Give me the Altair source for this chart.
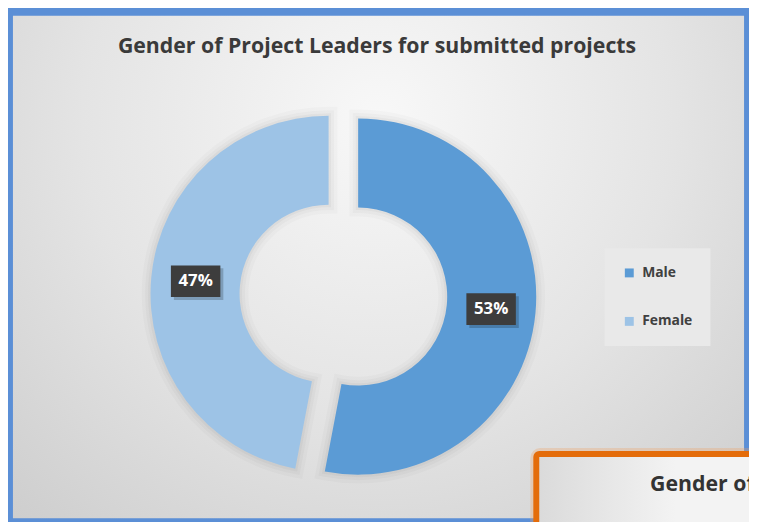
import altair as alt
import pandas as pd

# ---- data ----
genders = ["Male", "Female"]
shares = [53, 47]
colors = ["#5B9BD5", "#9DC3E6"]
title_text = "Gender of Project Leaders for submitted projects"
second_title_text = "Gender of"

df = pd.DataFrame({"gender": genders, "share": shares})

# ---- layout (pixels) ----
W, H = 749, 514
CX, CY = 339, 287.5
R_OUT, R_IN = 180, 90
EXPLODE = 15
LABEL_R = 135
FONT = "Open Sans"

dummy = alt.Data(values=[{}])

base = (
    alt.Chart(df)
    .transform_joinaggregate(total="sum(share)")
    .transform_window(cum="sum(share)", frame=[None, 0])
    .transform_calculate(t1="datum.cum / datum.total * 2 * PI")
    .transform_calculate(t0="(datum.cum - datum.share) / datum.total * 2 * PI")
    .transform_calculate(mid="(datum.t0 + datum.t1) / 2")
    .transform_calculate(ox=f"{CX} + {EXPLODE} * sin(datum.mid)")
    .transform_calculate(oy=f"{CY} - {EXPLODE} * cos(datum.mid)")
    .transform_calculate(lx=f"datum.ox + {LABEL_R} * sin(datum.mid)")
    .transform_calculate(ly=f"datum.oy - {LABEL_R} * cos(datum.mid)")
    .transform_calculate(pct="format(datum.share / datum.total, '.0%')")
)

bg = alt.Chart(dummy).mark_rect(
    fill=alt.RadialGradient(
        gradient="radial",
        stops=[
            alt.GradientStop(color="#F8F8F8", offset=0),
            alt.GradientStop(color="#E4E4E4", offset=0.5),
            alt.GradientStop(color="#C9C9C9", offset=1),
        ],
        x1=0.5, y1=0.3, x2=0.5, y2=0.3, r1=0, r2=0.8,
    ),
    stroke="#5B8FD6",
    strokeWidth=10,
    cornerRadius=4,
).encode(x=alt.value(0), x2=alt.value(W), y=alt.value(0), y2=alt.value(H + 4))

pos = dict(
    x=alt.X("ox:Q", scale=None, axis=None),
    y=alt.Y("oy:Q", scale=None, axis=None),
    theta=alt.Theta("t0:Q", scale=None),
    theta2=alt.Theta2("t1:Q"),
)

shadows = [
    base.mark_arc(
        outerRadius=R_OUT, innerRadius=R_IN, fillOpacity=0,
        stroke="#000000", strokeOpacity=op, strokeWidth=sw,
    ).encode(**pos)
    for sw, op in [(18, 0.02), (11, 0.025), (5, 0.03)]
]

arcs = base.mark_arc(outerRadius=R_OUT, innerRadius=R_IN).encode(
    color=alt.Color(
        "gender:N",
        scale=alt.Scale(domain=genders, range=colors),
        sort=genders,
        legend=alt.Legend(
            orient="none", legendX=603, legendY=240, title=None,
            fillColor="#E9E9E9", padding=18, symbolType="square",
            symbolSize=81, symbolStrokeWidth=0, symbolOpacity=1,
            labelFont=FONT, labelFontSize=14, labelFontWeight="bold",
            labelColor="#404040", rowPadding=35, labelOffset=6,
        ),
    ),
    **pos,
)

lpos = dict(
    x=alt.X("lx:Q", scale=None, axis=None),
    y=alt.Y("ly:Q", scale=None, axis=None),
)
BOX = "M-1,-0.64L1,-0.64L1,0.64L-1,0.64Z"
box_shadow = base.mark_point(
    shape=BOX, size=2500, filled=True, color="#000000", opacity=0.2,
    xOffset=3, yOffset=3,
).encode(**lpos)
box = base.mark_point(
    shape=BOX, size=2500, filled=True, color="#3D3D3D", opacity=1,
).encode(**lpos)
labels = base.mark_text(
    font=FONT, fontSize=17, fontWeight="bold", color="#FFFFFF",
).encode(text="pct:N", **lpos)

title = alt.Chart(dummy).mark_text(
    text=title_text, font=FONT, fontSize=21.5, fontWeight="bold",
    color="#3A3A3A", align="center", baseline="middle",
).encode(x=alt.value(373), y=alt.value(37))

orange_glow = alt.Chart(dummy).mark_rect(
    fillOpacity=0, stroke="#F0A060", strokeOpacity=0.3, strokeWidth=12,
    cornerRadius=4,
).encode(x=alt.value(534), x2=alt.value(W + 20), y=alt.value(448), y2=alt.value(H + 20))

orange = alt.Chart(dummy).mark_rect(
    fill=alt.LinearGradient(
        gradient="linear",
        stops=[
            alt.GradientStop(color="#DADADA", offset=0),
            alt.GradientStop(color="#F3F3F3", offset=0.6),
        ],
        x1=0, y1=0.5, x2=1, y2=0.5,
    ),
    stroke="#E46C0A", strokeWidth=6, cornerRadius=3,
).encode(x=alt.value(534), x2=alt.value(W + 20), y=alt.value(448), y2=alt.value(H + 20))

orange_text = alt.Chart(dummy).mark_text(
    text=second_title_text, font=FONT, fontSize=21.5, fontWeight="bold",
    color="#333333", align="left", baseline="middle",
).encode(x=alt.value(649), y=alt.value(479))

chart = alt.layer(
    bg, *shadows, arcs, box_shadow, box, labels, title,
    orange_glow, orange, orange_text,
).properties(
    width=W, height=H,
    autosize=alt.AutoSizeParams(type="none"),
    padding=0,
).configure_view(stroke=None)

chart.save("out.html", embed_options={"renderer": "svg", "actions": False})
